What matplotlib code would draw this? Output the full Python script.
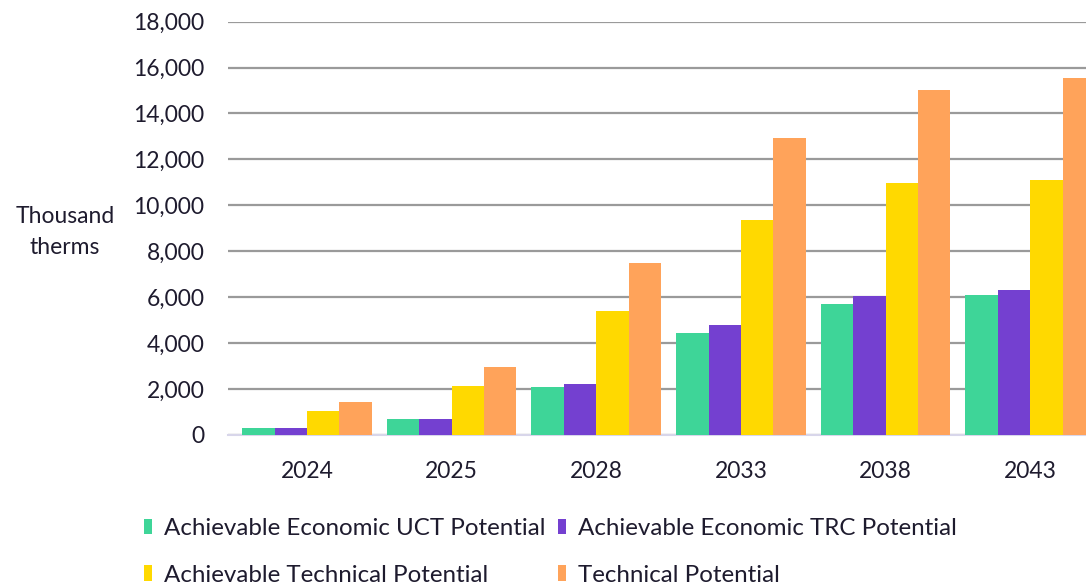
import numpy as np
import matplotlib.pyplot as plt
from matplotlib.ticker import FuncFormatter

#Data
years = ["2024", "2025", "2028", "2033", "2038", "2043"]
uct = [300, 670, 2090, 4450, 5710, 6100]
trc = [300, 700, 2220, 4790, 6030, 6320]
achievable_tech = [1030, 2140, 5390, 9370, 10950, 11120]
technical = [1440, 2950, 7490, 12940, 15030, 15550]

labels = ["Achievable Economic UCT Potential", "Achievable Economic TRC Potential",
          "Achievable Technical Potential", "Technical Potential"]
colors = ["#3ED598", "#7440D0", "#FFD900", "#FFA35A"]
text_color = "#1e1b2e"

plt.rcParams['font.family'] = ['Lato', 'DejaVu Sans']

fig = plt.figure(figsize=(10.86, 5.86), dpi=100)
ax = fig.add_axes([0.21, 0.258, 0.80, 0.705])

x = np.arange(len(years))
w = 0.224
series = [uct, trc, achievable_tech, technical]
bars = []
for i, (vals, lab, c) in enumerate(zip(series, labels, colors)):
    bars.append(ax.bar(x + (i - 1.5) * w, vals, w, color=c, label=lab, zorder=3))

ax.set_ylim(0, 18000)
ax.set_yticks(np.arange(0, 18001, 2000))
ax.yaxis.set_major_formatter(FuncFormatter(lambda v, p: f"{int(v):,}"))
ax.set_xlim(-0.545, 5.46)
ax.set_xticks(x)
ax.set_xticklabels(years)

ax.grid(axis="y", color="#9a9a9a", linewidth=1.6, zorder=0)
for s in ["top", "right", "left"]:
    ax.spines[s].set_visible(False)
ax.spines["bottom"].set_color("#d8d6ea")
ax.spines["bottom"].set_linewidth(1.5)
ax.tick_params(axis="both", length=0, labelsize=16.5, colors=text_color)
ax.tick_params(axis="x", pad=19)
ax.tick_params(axis="y", pad=17)

fig.text(0.06, 0.604, "Thousand\ntherms", ha="center", va="center",
         fontsize=16.5, color=text_color, linespacing=1.6)

# legend filled row by row: UCT, TRC / Achievable Technical, Technical
order = [0, 2, 1, 3]
leg = fig.legend([bars[i] for i in order], [labels[i] for i in order],
                 loc="upper left", bbox_to_anchor=(0.133, 0.116), ncol=2, frameon=False,
                 fontsize=17.4, handlelength=0.33, handleheight=0.6, handletextpad=0.5,
                 columnspacing=0.5, labelspacing=1.06, borderpad=0, borderaxespad=0)
for t in leg.get_texts():
    t.set_color(text_color)

fig.savefig("out.png", dpi=100)
